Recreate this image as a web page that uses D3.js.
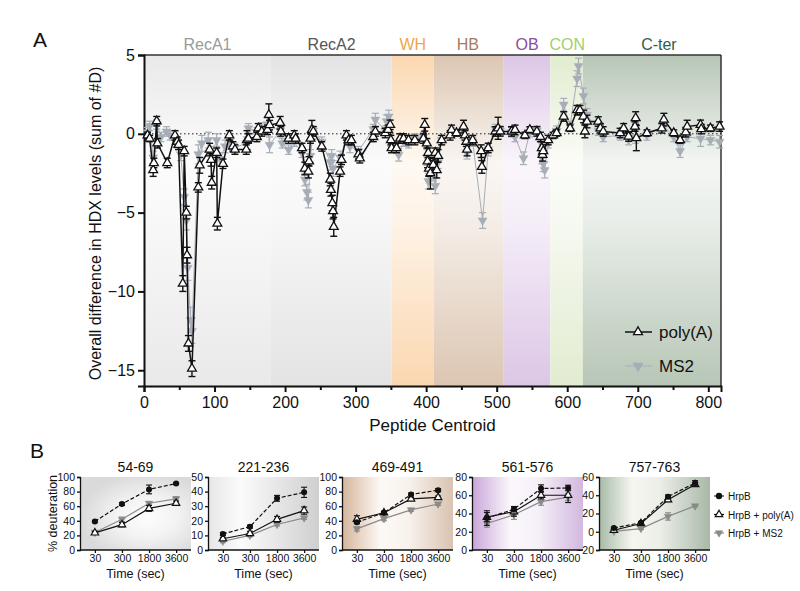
<!DOCTYPE html>
<html><head><meta charset="utf-8">
<script src="https://cdn.jsdelivr.net/npm/d3@7"></script>
<style>body{margin:0;background:#fff;} svg{font-family:"Liberation Sans", Arial, sans-serif;}</style>
</head><body><svg id="c" width="800" height="591"></svg>
<script>
// ---------- Panel A data ----------
const domainNames  = ["RecA1","RecA2","WH","HB","OB","CON","C-ter"];
const domainStart  = [0,179,351,411,510,576,622];
const domainEnd    = [179,351,411,510,576,622,818];
const domainLabelX = [90,266,381,459,543,600,730];
const domainFill   = ["#e9e9e9","#e3e3e3","#fbd7b0","#dcc6b2","#dcc6e6","#e2ecd0","#b7c6b6"];
const domainText   = ["#9a9a9a","#555555","#f2a54a","#a77b5c","#8b4d9c","#9fcf6e","#2f5d48"];

const polyA_centroid = [5,8,13,14,18,19,33,44,47,49,55,57,60,61,63,68,77,79,93,95,96,103,104,112,121,126,129,145,146,148,160,162,167,175,177,178,193,194,205,213,215,224,228,233,234,236,238,240,252,264,265,267,268,269,278,280,287,290,294,304,306,325,328,342,346,349,350,351,358,363,368,375,384,396,398,401,402,403,404,406,410,413,415,417,422,434,436,443,453,455,457,458,466,478,479,488,498,502,505,521,526,540,547,557,562,564,565,566,573,580,585,595,604,614,618,623,625,628,644,647,651,675,680,687,696,697,698,713,734,737,751,760,768,770,789,790,803,816];
const polyA_value = [-0.1,-0.3,-2.3,-1.85,0.8,-0.6,-1.85,-0.1,-0.5,-0.7,-9.5,-1.1,-5.0,-7.7,-13.3,-14.9,-3.4,-2.0,-1.0,-1.65,-3.1,-1.2,-5.7,-1.9,-0.1,-0.8,-1.0,-1.0,-0.4,-0.3,-0.2,0.35,0.15,0.25,1.2,0.55,0.7,0.15,-0.3,-0.1,-0.3,-0.9,-2.2,-2.4,-1.75,-0.3,0.25,0.15,-0.8,-2.9,-3.55,-4.4,-4.9,-5.9,-2.4,-1.65,-0.1,-0.4,-0.4,-1.3,-1.55,-0.2,0.15,0.05,0.25,0.57,-0.4,-0.9,-0.9,-0.3,-0.3,-0.4,-0.4,-0.3,0.57,-0.6,-1.75,-1.2,-2.2,-2.5,-1.97,-1.2,-2.3,-1.4,-0.4,-0.1,0.25,0.05,0.46,-0.1,-0.5,-1.0,-0.4,-1.1,-2.1,-0.9,0.15,0.35,0.15,0.15,0.25,-0.1,0.25,0.15,-0.2,-0.9,-1.33,-1.1,-0.4,-0.1,0.05,1.1,0.35,1.5,1.5,1.1,0.15,0.78,0.78,0.35,0.15,0.05,0.35,-0.17,0.46,1.0,-0.27,0.05,0.35,0.9,0.05,-0.4,0.1,0.46,0.57,0.3,0.35,0.46];
const polyA_error = [0.2,0.2,0.4,0.3,0.3,0.3,0.3,0.3,0.3,0.3,0.5,0.3,0.4,0.5,0.5,0.5,0.3,0.5,0.4,0.4,0.4,0.3,0.4,0.3,0.3,0.3,0.3,0.3,0.6,0.3,0.3,0.3,0.3,0.3,0.7,0.3,0.4,0.3,0.3,0.3,0.3,0.3,0.4,0.4,0.3,0.3,0.6,0.3,0.3,0.4,0.4,0.5,0.5,0.6,0.3,0.3,0.3,0.3,0.3,0.3,0.3,0.3,0.3,0.3,0.3,0.3,0.3,0.3,0.3,0.3,0.3,0.3,0.3,0.3,0.4,0.3,0.4,0.3,0.5,1.0,0.4,0.3,0.5,0.4,0.3,0.3,0.3,0.2,0.4,0.3,0.3,0.4,0.3,0.4,0.4,0.3,0.3,0.7,0.3,0.3,0.3,0.2,0.2,0.3,0.3,0.4,0.4,0.4,0.3,0.2,0.2,0.3,0.2,0.3,0.3,0.4,0.4,0.4,0.3,0.3,0.3,0.3,0.3,0.3,0.3,0.4,0.8,0.2,0.3,0.4,0.2,0.2,0.3,0.4,0.3,0.3,0.2,0.3];

const ms2_centroid = [5,8,13,18,24,32,37,47,52,57,60,62,66,68,77,82,91,96,103,108,115,121,128,145,148,160,167,175,178,193,196,205,213,224,228,231,233,236,240,252,264,266,268,278,287,292,304,325,328,342,344,347,351,361,368,375,384,396,401,403,410,413,417,422,436,453,458,466,480,488,498,505,521,526,538,547,557,564,566,568,573,585,595,604,614,616,623,628,644,651,675,687,697,713,737,751,760,770,789,803,816];
const ms2_value = [0.1,0.5,-1.5,0.6,-0.2,0.15,-0.1,-0.6,-1.3,-4.0,-5.5,-8.5,-11.8,-12.5,-1.3,-0.6,-0.4,-1.3,-0.4,-1.6,-0.8,-0.5,-0.9,-0.6,0.35,0.1,0.4,0.6,-0.7,0.2,-0.6,-1.0,-0.5,-1.2,-2.9,-3.7,-4.2,-1.4,0.2,-0.5,-1.8,-1.4,-2.2,-1.5,-0.3,-0.8,-1.1,0.3,0.9,0.2,0.8,1.1,-0.9,-1.33,-0.5,-0.6,-0.3,-0.2,-1.5,-3.0,-2.5,-3.3,-1.8,-0.4,0.1,0.2,-1.2,-0.5,-5.5,-1.0,0.3,0.2,0.1,-0.2,-1.55,0.1,0.2,-1.5,-1.9,-2.3,-0.6,0.2,1.85,0.5,3.5,4.3,2.4,1.2,0.2,-0.2,-0.1,-0.4,-0.2,-0.1,0.5,-0.2,-1.1,-0.2,-0.3,-0.4,-0.5];
const ms2_error = [0.3,0.3,0.4,0.3,0.3,0.3,0.3,0.3,0.4,0.5,0.6,0.8,0.8,0.8,0.6,0.5,0.5,0.5,0.4,0.4,0.4,0.3,0.3,0.4,0.3,0.3,0.3,0.4,0.5,0.4,0.3,0.3,0.3,0.3,0.4,0.5,0.5,0.4,0.3,0.3,0.5,0.4,0.5,0.4,0.3,0.4,0.3,0.3,0.4,0.3,0.4,0.4,0.3,0.4,0.3,0.3,0.3,0.3,0.5,0.5,0.5,0.5,0.4,0.3,0.3,0.3,0.4,0.3,0.5,0.4,0.3,0.3,0.3,0.3,0.4,0.3,0.3,0.4,0.5,0.5,0.3,0.3,0.4,0.3,0.5,0.5,0.5,0.4,0.3,0.3,0.3,0.3,0.4,0.3,0.3,0.3,0.4,0.3,0.5,0.3,0.4];

const xTicksA = [0,100,200,300,400,500,600,700,800];
const yTicksA = [5,0,-5,-10,-15];

// ---------- Panel B data ----------
const bTitles = ["54-69","221-236","469-491","561-576","757-763"];
const bYmin = [0,0,0,0,-20];
const bYmax = [100,50,100,80,60];
const bYstep = [20,10,20,20,20];
const times = ["30","300","1800","3600"];
const hrpB      = [[39,63,83,91],[11,16,35.4,39.5],[38,51,76,82],[35,44.7,67.4,68],[4,10,38.4,53.5]];
const hrpB_err  = [[1.5,2,6,1.5],[1,1,2,3.5],[2,2,2,2],[8,3,4,3],[1,1,2,2.5]];
const polyAB     = [[23.5,34.7,57,64],[7.7,11.3,21,27],[42,51,70,72],[36,42,60,60],[1.6,9,35,51.8]];
const polyAB_err = [[2,3,4,3],[1,1.5,2,2.5],[5,2,2,2],[5,5,4,8],[1,1.5,2,2]];
const ms2B       = [[24,42,64,70],[6,10,17.5,22],[29,43,55,63],[29,38.6,53,58],[0.5,3.5,16.8,28.3]];
const ms2B_err   = [[2,3,2,3],[1,1,1,1],[3,3,2,2],[4,5,4,4],[1,1,4,1]];
const bLegend = ["HrpB","HrpB + poly(A)","HrpB + MS2"];

// ---------- drawing ----------
const svg = d3.select("#c");
const defs = svg.append("defs");
const gray = "#a7adb6";

// Panel A geometry
const L = 144, R = 721, T = 55, B = 386;
const x = d3.scaleLinear().domain([0, 818]).range([L, R]);
const y = d3.scaleLinear().domain([-16, 5]).range([B, T]);

domainNames.forEach((n, i) => {
  const g = defs.append("linearGradient").attr("id", "dg" + i).attr("x1", 0).attr("y1", 0).attr("x2", 0).attr("y2", 1);
  const c = d3.color(domainFill[i]);
  const mid = d3.interpolateRgb(domainFill[i], "#ffffff")(0.85);
  g.append("stop").attr("offset", "0").attr("stop-color", c);
  g.append("stop").attr("offset", "0.33").attr("stop-color", mid);
  g.append("stop").attr("offset", "0.5").attr("stop-color", d3.interpolateRgb(domainFill[i], "#ffffff")(0.7));
  g.append("stop").attr("offset", "1").attr("stop-color", c);
  svg.append("rect").attr("x", x(domainStart[i])).attr("y", T)
    .attr("width", x(domainEnd[i]) - x(domainStart[i])).attr("height", B - T)
    .attr("fill", "url(#dg" + i + ")");
  svg.append("text").attr("x", x(domainLabelX[i])).attr("y", 50).attr("text-anchor", "middle")
    .attr("font-size", 16).attr("fill", domainText[i]).text(n);
});

// frame top/right
svg.append("line").attr("x1", L).attr("x2", R).attr("y1", T).attr("y2", T).attr("stroke", "#333").attr("stroke-width", 1.5);
svg.append("line").attr("x1", R).attr("x2", R).attr("y1", T).attr("y2", B).attr("stroke", "#333").attr("stroke-width", 1.5);

// zero dotted line
svg.append("line").attr("x1", L).attr("x2", R).attr("y1", y(0)).attr("y2", y(0))
  .attr("stroke", "#222").attr("stroke-width", 1).attr("stroke-dasharray", "1.5,2.5");

// axes
const xAx = svg.append("g").attr("transform", `translate(0,${B})`)
  .call(d3.axisBottom(x).tickValues(xTicksA).tickSize(6).tickPadding(5).tickFormat(d3.format("d")));
const xMinor = svg.append("g").attr("transform", `translate(0,${B})`)
  .call(d3.axisBottom(x).tickValues(d3.range(50, 818, 100)).tickSize(4).tickFormat(""));
xMinor.select(".domain").remove();
const yAx = svg.append("g").attr("transform", `translate(${L},0)`)
  .call(d3.axisLeft(y).tickValues(yTicksA).tickSize(6).tickPadding(3));
[xAx, xMinor, yAx].forEach(g => {
  g.selectAll("path,line").attr("stroke", "#111").attr("stroke-width", 2);
  g.selectAll("text").attr("font-size", 16).attr("fill", "#111").attr("font-family", "Liberation Sans, Arial, sans-serif");
});

svg.append("text").attr("x", (L + R) / 2).attr("y", 431).attr("text-anchor", "middle").attr("font-size", 17).attr("fill", "#111").text("Peptide Centroid");
svg.append("text").attr("transform", `translate(101,${(T + B) / 2 + 3}) rotate(-90)`).attr("text-anchor", "middle")
  .attr("font-size", 16).attr("fill", "#111").text("Overall difference in HDX levels (sum of #D)");
svg.append("text").attr("x", 33).attr("y", 47).attr("font-size", 21).attr("fill", "#111").text("A");
svg.append("text").attr("x", 30).attr("y", 458).attr("font-size", 21).attr("fill", "#111").text("B");

const tri = d3.symbol().type(d3.symbolTriangle).size(34)();
const triS = d3.symbol().type(d3.symbolTriangle).size(24)();

function drawSeries(cx, cv, ce, color, lw, isPoly) {
  const pts = cx.map((c, i) => ({c, v: cv[i], e: ce[i]}));
  svg.append("path").datum(pts).attr("fill", "none").attr("stroke", color).attr("stroke-width", lw)
    .attr("d", d3.line().x(d => x(d.c)).y(d => y(d.v)));
  const eb = svg.append("g").attr("stroke", color).attr("stroke-width", isPoly ? 1.4 : 1.2);
  pts.forEach(d => {
    eb.append("line").attr("x1", x(d.c)).attr("x2", x(d.c)).attr("y1", y(d.v - d.e)).attr("y2", y(d.v + d.e));
    [d.v - d.e, d.v + d.e].forEach(v => eb.append("line").attr("x1", x(d.c) - 3.5).attr("x2", x(d.c) + 3.5).attr("y1", y(v)).attr("y2", y(v)));
  });
  svg.append("g").selectAll("path").data(pts).join("path").attr("d", tri)
    .attr("transform", d => `translate(${x(d.c)},${y(d.v)})` + (isPoly ? "" : " rotate(180)"))
    .attr("fill", isPoly ? "#fff" : color).attr("stroke", isPoly ? "#111" : color).attr("stroke-width", isPoly ? 1.3 : 0.5);
}
drawSeries(ms2_centroid, ms2_value, ms2_error, gray, 1, false);
drawSeries(polyA_centroid, polyA_value, polyA_error, "#111", 1.5, true);

// legend A
const lgA = [{n: "poly(A)", c: "#111", p: true, yy: 332}, {n: "MS2", c: gray, p: false, yy: 366}];
lgA.forEach(d => {
  svg.append("line").attr("x1", 625).attr("x2", 652).attr("y1", d.yy).attr("y2", d.yy).attr("stroke", d.c).attr("stroke-width", d.p ? 1.5 : 1);
  svg.append("path").attr("d", tri).attr("transform", `translate(638,${d.yy})` + (d.p ? "" : " rotate(180)"))
    .attr("fill", d.p ? "#fff" : d.c).attr("stroke", d.p ? "#111" : d.c).attr("stroke-width", 1.3);
  svg.append("text").attr("x", 659).attr("y", d.yy + 6).attr("font-size", 17).attr("fill", "#111").text(d.n);
});

// ---------- Panel B ----------
const bLeft = [80, 208, 342, 472, 599];
const bW = 111, bT = 477, bB = 550;
const bgStops = [
  null,
  [[0, "#e6e6e6"], [0.3, "#fbfbfb"], [1, "#cfcfcf"]],
  [[0, "#d5b59c"], [0.35, "#fdf9f5"], [0.6, "#f8f2ec"], [1, "#d9c3b1"]],
  [[0, "#c9a6d9"], [0.35, "#fbf8fc"], [0.6, "#f6eff8"], [1, "#d2b8de"]],
  [[0, "#a7bba7"], [0.3, "#f6f6f0"], [0.55, "#eceee8"], [1, "#a9b9a8"]]
];
bTitles.forEach((t, i) => {
  const x0 = bLeft[i];
  const bx = d3.scalePoint().domain(times).range([x0, x0 + bW]).padding(0.55);
  const by = d3.scaleLinear().domain([bYmin[i], bYmax[i]]).range([bB, bT]);
  let fillId = "bg" + i;
  if (i === 0) {
    const rg = defs.append("radialGradient").attr("id", fillId).attr("cx", "0.6").attr("cy", "0.55").attr("r", "0.6");
    rg.append("stop").attr("offset", "0").attr("stop-color", "#fdfdfd");
    rg.append("stop").attr("offset", "0.45").attr("stop-color", "#f3f3f3");
    rg.append("stop").attr("offset", "1").attr("stop-color", "#dadada");
  } else {
    const lg = defs.append("linearGradient").attr("id", fillId).attr("x1", 0).attr("x2", 1).attr("y1", 0).attr("y2", 0);
    bgStops[i].forEach(s => lg.append("stop").attr("offset", s[0]).attr("stop-color", s[1]));
  }
  svg.append("rect").attr("x", x0).attr("y", bT).attr("width", bW).attr("height", bB - bT).attr("fill", `url(#${fillId})`);

  const ya = svg.append("g").attr("transform", `translate(${x0},0)`)
    .call(d3.axisLeft(by).tickValues(d3.range(bYmin[i], bYmax[i] + 0.1, bYstep[i])).tickSize(3).tickPadding(2));
  const xa = svg.append("g").attr("transform", `translate(0,${bB})`)
    .call(d3.axisBottom(bx).tickSize(3).tickPadding(2));
  xa.select(".domain").attr("d", `M${x0},0H${x0 + bW}`);
  [ya, xa].forEach(g => {
    g.selectAll("path,line").attr("stroke", "#111").attr("stroke-width", 1.3);
    g.selectAll("text").attr("font-size", 10.5).attr("fill", "#111").attr("font-family", "Liberation Sans, Arial, sans-serif");
  });
  svg.append("text").attr("x", x0 + bW / 2).attr("y", 472).attr("text-anchor", "middle").attr("font-size", 14).attr("fill", "#111").text(t);
  svg.append("text").attr("x", x0 + bW / 2).attr("y", 578).attr("text-anchor", "middle").attr("font-size", 12.5).attr("fill", "#111").text("Time (sec)");

  const series = [
    {v: ms2B[i], e: ms2B_err[i], c: "#8a8a8a", dash: null, m: "ms2"},
    {v: polyAB[i], e: polyAB_err[i], c: "#111", dash: null, m: "tri"},
    {v: hrpB[i], e: hrpB_err[i], c: "#111", dash: "4,2", m: "circ"}
  ];
  series.forEach(s => {
    const pts = times.map((tt, k) => ({t: tt, v: s.v[k], e: s.e[k]}));
    svg.append("path").datum(pts).attr("fill", "none").attr("stroke", s.c).attr("stroke-width", 1.2)
      .attr("stroke-dasharray", s.dash).attr("d", d3.line().x(d => bx(d.t)).y(d => by(d.v)));
    pts.forEach(d => {
      const g = svg.append("g").attr("stroke", s.c).attr("stroke-width", 1.1);
      g.append("line").attr("x1", bx(d.t)).attr("x2", bx(d.t)).attr("y1", by(d.v - d.e)).attr("y2", by(d.v + d.e));
      [d.v - d.e, d.v + d.e].forEach(v => g.append("line").attr("x1", bx(d.t) - 3).attr("x2", bx(d.t) + 3).attr("y1", by(v)).attr("y2", by(v)));
      if (s.m === "circ") svg.append("circle").attr("cx", bx(d.t)).attr("cy", by(d.v)).attr("r", 3).attr("fill", "#111");
      else if (s.m === "tri") svg.append("path").attr("d", triS).attr("transform", `translate(${bx(d.t)},${by(d.v)})`).attr("fill", "#fff").attr("stroke", "#111").attr("stroke-width", 1.2);
      else svg.append("path").attr("d", triS).attr("transform", `translate(${bx(d.t)},${by(d.v)}) rotate(180)`).attr("fill", s.c).attr("stroke", s.c).attr("stroke-width", 0.5);
    });
  });
});
svg.append("text").attr("transform", `translate(57,${(bT + bB) / 2}) rotate(-90)`).attr("text-anchor", "middle")
  .attr("font-size", 12.5).attr("fill", "#111").text("% deuteration");

// legend B
const lgB = [{c: "#111", m: "circ", dash: "4,2"}, {c: "#111", m: "tri", dash: null}, {c: "#8a8a8a", m: "ms2", dash: null}];
lgB.forEach((d, k) => {
  const yy = 496 + k * 18.5;
  svg.append("line").attr("x1", 714).attr("x2", 724).attr("y1", yy).attr("y2", yy).attr("stroke", d.c).attr("stroke-width", 1.2).attr("stroke-dasharray", d.dash);
  if (d.m === "circ") svg.append("circle").attr("cx", 719).attr("cy", yy).attr("r", 3.2).attr("fill", "#111");
  else svg.append("path").attr("d", triS).attr("transform", `translate(719,${yy})` + (d.m === "ms2" ? " rotate(180)" : ""))
    .attr("fill", d.m === "tri" ? "#fff" : d.c).attr("stroke", d.c).attr("stroke-width", d.m === "tri" ? 1.2 : 0.5);
  svg.append("text").attr("x", 728).attr("y", yy + 4).attr("font-size", 10).attr("fill", "#111").text(bLegend[k]);
});
</script></body></html>
